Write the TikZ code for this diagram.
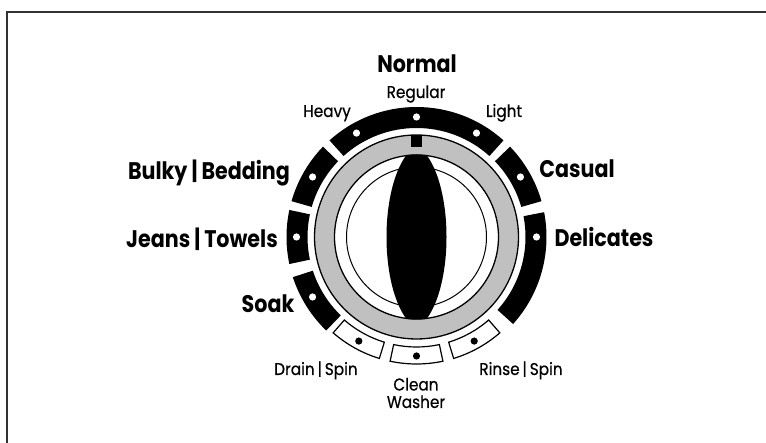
\documentclass[tikz,border=0pt]{standalone}
\usepackage{fontspec}
\setmainfont{Poppins}
\newfontfamily\bigfont{Poppins}[FakeStretch=0.86]
\newfontfamily\smallfont{Poppins}[FakeStretch=0.9, FakeBold=0.6]
\definecolor{ringgray}{RGB}{192,192,192}
\definecolor{framegray}{RGB}{50,50,50}
\tikzset{
  biglabel/.style={anchor=base, inner sep=0pt, font=\bigfont\bfseries\fontsize{24}{26}\selectfont},
  smalllabel/.style={anchor=base, inner sep=0pt, font=\smallfont\fontsize{17}{17.5}\selectfont},
  blackseg/.style={fill=black},
  whiteseg/.style={draw=black, line width=1.2pt, fill=white},
  whitedot/.style={fill=white},
  blackdot/.style={fill=black},
}
\newcommand{\sectorpath}[4]{% a1 a2 r1 r2
  (#1:#3) arc[start angle=#1, end angle=#2, radius=#3] -- (#2:#4) arc[start angle=#2, end angle=#1, radius=#4] -- cycle}
\begin{document}
\begin{tikzpicture}[x=1pt,y=1pt]
\useasboundingbox (0,0) rectangle (766,443);
% frame
\draw[framegray, line width=2pt] (7,0) -- (7,431) -- (766,431);
% dial
\begin{scope}[shift={(416.5,206)}]
  % black selector segments
  \fill[blackseg] \sectorpath{48}{132}{109}{130};
  \fill[blackseg] \sectorpath{16}{44}{109}{130};
  \fill[blackseg] \sectorpath{-42}{11}{109}{130};
  \fill[blackseg] \sectorpath{136}{164}{109}{130};
  \fill[blackseg] \sectorpath{168}{192}{109}{130};
  \fill[blackseg] \sectorpath{198}{226}{109}{130};
  % white dots
  \foreach \a in {60,90,120,30,0,150,180,210}
    \fill[whitedot] (\a:120) circle (3.6);
  % white outlined segments
  \filldraw[whiteseg] \sectorpath{229}{253}{110}{127};
  \filldraw[whiteseg] \sectorpath{258}{282}{110}{127};
  \filldraw[whiteseg] \sectorpath{287}{311}{110}{127};
  \foreach \a in {241,270,299}
    \fill[blackdot] (\a:119) circle (3.6);
  % gray ring
  \fill[ringgray, even odd rule] (0,0) circle (102) (0,0) circle (82);
  \draw[line width=1.3pt] (0,0) circle (102);
  \draw[line width=1pt] (0,0) circle (70);
  % marker
  \fill (-5.5,90) rectangle (5.5,102);
  % pointer (clipped to the inner edge of the ring)
  \begin{scope}
    \clip (0,0) circle (82.5);
    \fill (0,92) .. controls (40,65) and (40,-65) .. (0,-92)
          .. controls (-40,-65) and (-40,65) .. (0,92) -- cycle;
  \end{scope}
  \draw[line width=1.3pt] (0,0) circle (82);
\end{scope}
% labels
\node[biglabel] (normal) at (417,370) {Normal};
\node[smalllabel] (regular) at (416,345) {Regular};
\node[smalllabel] (heavy) at (327,326) {Heavy};
\node[smalllabel] (light) at (504,326) {Light};
\node[biglabel] (bulky) at (209,263) {Bulky\,|\,Bedding};
\node[biglabel] (casual) at (577,265) {Casual};
\node[biglabel] (jeans) at (202,195) {Jeans\,|\,Towels};
\node[biglabel] (delicates) at (604,196) {Delicates};
\node[biglabel] (soak) at (268,130) {Soak};
\node[smalllabel] (drain) at (316,68) {Drain\,|\,Spin};
\node[smalllabel] (rinse) at (521,68) {Rinse\,|\,Spin};
\node[smalllabel, anchor=center, align=center] (cleanwasher) at (416,50) {Clean\\Washer};
\end{tikzpicture}
\end{document}
